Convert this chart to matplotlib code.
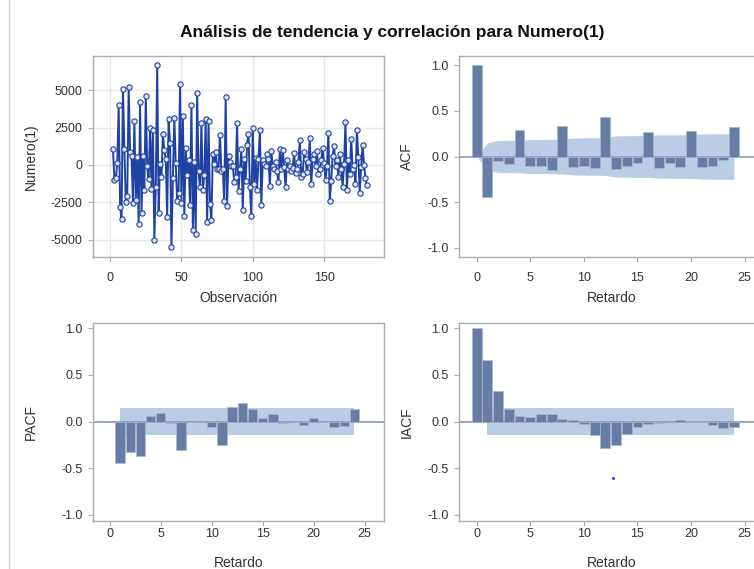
import numpy as np
import matplotlib
matplotlib.use("Agg")
import matplotlib.pyplot as plt
from matplotlib.lines import Line2D

plt.rcParams.update({
    "font.family": ["Liberation Sans", "DejaVu Sans"],
    "axes.unicode_minus": False,
    "font.size": 9,
})

# ── Datos ────────────────────────────────────────────────────────────────
serie = [
    1050, -1000, -900, 100, 4000, -2800, -3600, 5100, 1050, -2500,
    -2100, 5250, 850, 600, -2550, 2950, -2350, 500, -3950, 4200,
    -3250, 600, -1650, 4600, -100, -950, 2450, -1600, 2350, -5000,
    -1500, 6700, -3200, 50, -800, 2050, 1000, 400, -3500, 3050,
    1500, -5500, -900, 3150, 150, -2450, -1900, 5450, -2550, 3250,
    -3450, 1150, -700, 350, -2700, 4000, -4350, 200, -4600, 4800,
    -400, -1500, 2800, -1650, -650, 3050, -3850, 2950, -2600, -3700,
    750, 50, 850, -250, -250, 2000, -400, -250, -2450, 4550,
    -2750, 600, 200, -100, -50, -1150, -800, 2800, -1750, -300,
    1050, -3000, 400, -1050, 1350, 2100, -1450, -3450, 2500, -1300,
    450, -1700, 400, 2350, -2700, 300, 50, -50, 750, 400,
    -1400, 950, -50, -250, 200, -400, -1150, 1050, -250, 1000,
    -150, -1500, 300, -250, -50, -400, -200, 800, -550, -250,
    200, 1650, -800, -600, 900, 400, -500, 200, 1800, -1300,
    400, 750, -50, 950, -600, -250, 300, 1150, 100, -1000,
    -100, 2150, -2400, -1050, 600, 1250, -50, 300, -800, 750,
    -250, -1450, 50, 2900, -1700, 300, -600, 1750, -250, 0,
    -1300, 2350, 500, -1850, -150, 1350, 0, -900, -1350,
]
obs = np.arange(2, 2 + len(serie))

lags = np.arange(0, 25)
acf = [1.0, -0.44, -0.05, -0.077, 0.29, -0.106, -0.10, -0.15, 0.337, -0.12,
       -0.10, -0.128, 0.43, -0.135, -0.10, -0.066, 0.267, -0.125, -0.066, -0.113,
       0.28, -0.12, -0.10, -0.04, 0.326]
acf_band = [0.0, 0.149, 0.176, 0.176, 0.177, 0.186, 0.187, 0.188, 0.191, 0.203,
            0.204, 0.205, 0.207, 0.226, 0.227, 0.228, 0.229, 0.237, 0.238, 0.238,
            0.240, 0.247, 0.248, 0.249, 0.249]

pacf_lags = np.arange(1, 25)
pacf = [-0.446, -0.33, -0.364, 0.057, 0.096, -0.014, -0.30, -0.01, -0.003, -0.057,
        -0.254, 0.16, 0.196, 0.132, 0.043, 0.082, -0.018, -0.004, -0.036, 0.039,
        -0.007, -0.06, -0.046, 0.136]

iacf = [1.0, 0.655, 0.33, 0.137, 0.054, 0.047, 0.076, 0.076, 0.029, 0.014,
        -0.029, -0.14, -0.284, -0.252, -0.137, -0.058, -0.029, -0.011, -0.004, 0.014,
        0.011, -0.004, -0.032, -0.068, -0.061]
band_2se = 0.149
punto_iacf = (12.73, -0.60)

# ── Estilo ───────────────────────────────────────────────────────────────
BAR = "#667ea5"
BAND = "#b9cde7"
FRAME = "#a9adb3"
TXT = "#333333"
LINE = "#1f41a3"
TICK_FS = 9
LAB_FS = 10

W, H = 754, 569
fig = plt.figure(figsize=(W / 100, H / 100), dpi=100)


def rect(left, top, right, bottom):
    return [left / W, 1 - bottom / H, (right - left) / W, (bottom - top) / H]


def nuevo_ax(left, top, right, bottom, xpad, ylab_x, xlab_y):
    ax = fig.add_axes(rect(left, top, right, bottom))
    for s in ax.spines.values():
        s.set_color(FRAME)
        s.set_linewidth(1.0)
    ax.tick_params(colors=FRAME, labelcolor=TXT, length=3.5, width=0.8,
                   labelsize=TICK_FS, pad=4)
    ax.tick_params(axis="x", pad=xpad)
    # posición de las etiquetas de eje en píxeles de la figura
    ax.yaxis.set_label_coords((ylab_x - left) / (right - left), 0.5)
    ax.xaxis.set_label_coords(0.5, -(xlab_y - bottom) / (bottom - top))
    return ax


def corr_ax(ax, ylabel, ylim):
    ax.set_xlim(-1.65, 26.9)
    ax.set_ylim(*ylim)
    ax.set_xticks([0, 5, 10, 15, 20, 25])
    ax.set_yticks([-1.0, -0.5, 0.0, 0.5, 1.0])
    ax.set_yticklabels([f"{v:.1f}" for v in [-1.0, -0.5, 0.0, 0.5, 1.0]])
    ax.axhline(0, color="#8799b6", lw=1.2, zorder=1)
    ax.set_xlabel("Retardo", fontsize=LAB_FS, color=TXT)
    ax.set_ylabel(ylabel, fontsize=LAB_FS, color=TXT)


# Serie
ax1 = nuevo_ax(93, 56, 384, 257, 7, 38, 291)
ax1.grid(True, color="#e6e8eb", lw=1.0)
ax1.set_axisbelow(True)
ax1.plot(obs, serie, color=LINE, lw=1.4, marker="o", ms=3.8, mfc="#dfe5f3",
         mec=LINE, mew=0.8)
ax1.set_xlim(-12, 192)
ax1.set_ylim(-6170, 7300)
ax1.set_xticks([0, 50, 100, 150])
ax1.set_yticks([-5000, -2500, 0, 2500, 5000])
ax1.set_xlabel("Observación", fontsize=LAB_FS, color=TXT)
ax1.set_ylabel("Numero(1)", fontsize=LAB_FS, color=TXT)

# ACF
ax2 = nuevo_ax(459, 56, 765, 257, 7, 414, 291)
ax2.fill_between(lags, -np.array(acf_band), acf_band, color=BAND, lw=0, zorder=0)
corr_ax(ax2, "ACF", (-1.10, 1.10))
ax2.bar(lags, acf, width=0.92, color=BAR, edgecolor="#a8b6cc", lw=0.5, zorder=2)

# PACF
ax3 = nuevo_ax(93, 323, 384, 521, 1.5, 38, 556)
ax3.fill_between([1, 24], -band_2se, band_2se, color=BAND, lw=0, zorder=0)
corr_ax(ax3, "PACF", (-1.065, 1.055))
ax3.bar(pacf_lags, pacf, width=0.92, color=BAR, edgecolor="#a8b6cc", lw=0.5, zorder=2)

# IACF
ax4 = nuevo_ax(459, 323, 765, 521, 1.5, 414, 556)
ax4.fill_between([1, 24], -band_2se, band_2se, color=BAND, lw=0, zorder=0)
corr_ax(ax4, "IACF", (-1.065, 1.055))
ax4.bar(lags, iacf, width=0.92, color=BAR, edgecolor="#a8b6cc", lw=0.5, zorder=2)
ax4.plot(*punto_iacf, marker="o", ms=1.2, color="#3b3bff", lw=0, zorder=3)

fig.text(392 / W, 1 - 32 / H, "Análisis de tendencia y correlación para Numero(1)",
         ha="center", va="center", fontsize=12.5, fontweight="bold", color="#111111")
fig.add_artist(Line2D([8.5 / W, 8.5 / W], [0, 1], color="#d6d6d6", lw=1.0))

fig.savefig("out.png", dpi=100)
